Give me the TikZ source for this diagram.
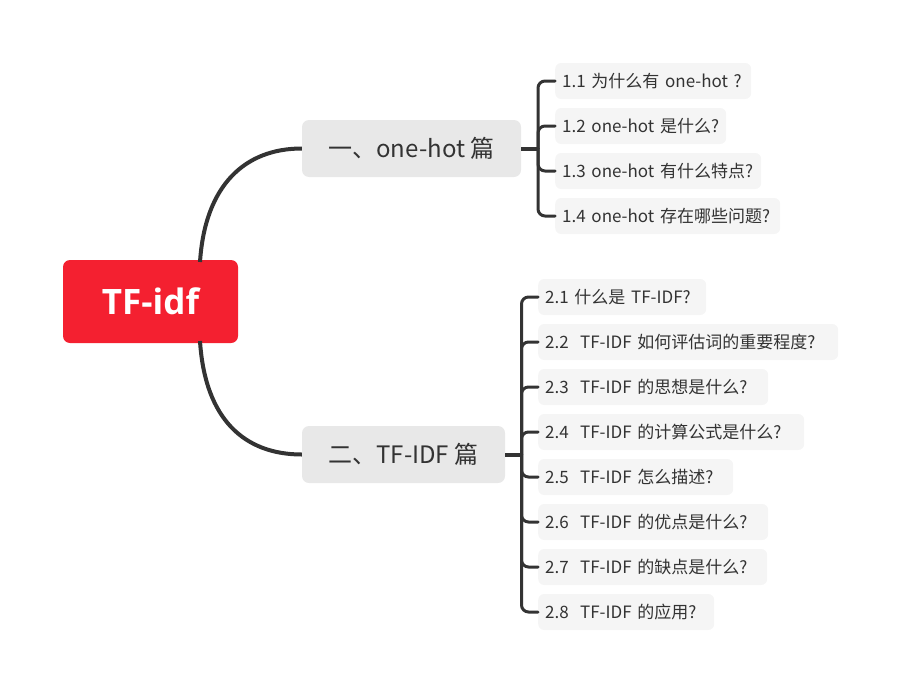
\documentclass[tikz,border=0pt]{standalone}
\usepackage{fontspec}
\setmainfont{Noto Sans CJK SC}
\newfontfamily\rootfont{Open Sans}[BoldFont={Open Sans Bold}]
\definecolor{rootred}{HTML}{F42030}
\definecolor{branchgray}{HTML}{E8E8E8}
\definecolor{leafgray}{HTML}{F5F5F5}
\definecolor{ink}{HTML}{333333}
\begin{document}
\begin{tikzpicture}[x=1pt,y=-1pt,
  rootbox/.style={fill=rootred,rounded corners=7pt,minimum width=175pt,minimum height=83pt,inner sep=0pt,text=white,font=\rootfont\bfseries\fontsize{35}{40}\selectfont},
  branchbox/.style={fill=branchgray,rounded corners=7pt,minimum height=57pt,inner sep=0pt,text=ink,font=\fontsize{24}{28}\selectfont},
  leafbox/.style={fill=leafgray,rounded corners=6pt,minimum height=36pt,inner xsep=7pt,inner ysep=0pt,anchor=west,align=left,text=ink,font=\fontsize{17}{20}\selectfont},
  mainlink/.style={draw=ink,line width=4pt},
  leaflink/.style={draw=ink,line width=3pt,rounded corners=7pt,line cap=round}]
\useasboundingbox (0,0) rectangle (901,693);
\node[rootbox] (root) at (150.5,301.5) {TF-idf};
\node[branchbox,minimum width=219pt] (b1) at (411.5,148.5) {一、one-hot 篇};
\node[branchbox,minimum width=203pt] (b2) at (403.5,454.5) {二、TF-IDF 篇};
% leaves group 1
\node[leafbox,text width=182pt] (l11) at (555,81) {1.1 为什么有 one-hot ?};
\node[leafbox,text width=157pt] (l12) at (555,126) {1.2 one-hot 是什么?};
\node[leafbox,text width=192pt] (l13) at (555,171) {1.3 one-hot 有什么特点?};
\node[leafbox,text width=211pt] (l14) at (555,216) {1.4 one-hot 存在哪些问题?};
% leaves group 2
\node[leafbox,text width=154pt] (l21) at (538,297) {2.1 什么是 TF-IDF?};
\node[leafbox,text width=286pt] (l22) at (538,342) {2.2\ \ TF-IDF 如何评估词的重要程度?};
\node[leafbox,text width=216pt] (l23) at (538,387) {2.3\ \ TF-IDF 的思想是什么?};
\node[leafbox,text width=252pt] (l24) at (538,432) {2.4\ \ TF-IDF 的计算公式是什么?};
\node[leafbox,text width=181pt] (l25) at (538,477) {2.5\ \ TF-IDF 怎么描述?};
\node[leafbox,text width=216pt] (l26) at (538,522) {2.6\ \ TF-IDF 的优点是什么?};
\node[leafbox,text width=215pt] (l27) at (538,567) {2.7\ \ TF-IDF 的缺点是什么?};
\node[leafbox,text width=162pt] (l28) at (538,612) {2.8\ \ TF-IDF 的应用?};
% root to branches
\coordinate (r1) at (200,262);
\coordinate (r2) at (200,341);
\draw[mainlink] (r1) .. controls (205,185) and (245,148.5) .. (b1.west);
\draw[mainlink] (r2) .. controls (205,420) and (245,454.5) .. (b2.west);
% junctions
\coordinate (j1) at (538,148.5);
\coordinate (j2) at (521.5,454.5);
\draw[mainlink] (b1.east) -- (j1);
\draw[mainlink] (b2.east) -- (j2);
\foreach \n in {l11,l12,l13,l14}{\draw[leaflink] (j1) |- (\n.west);}
\foreach \n in {l21,l22,l23,l24,l25,l26,l27,l28}{\draw[leaflink] (j2) |- (\n.west);}
\end{tikzpicture}
\end{document}
